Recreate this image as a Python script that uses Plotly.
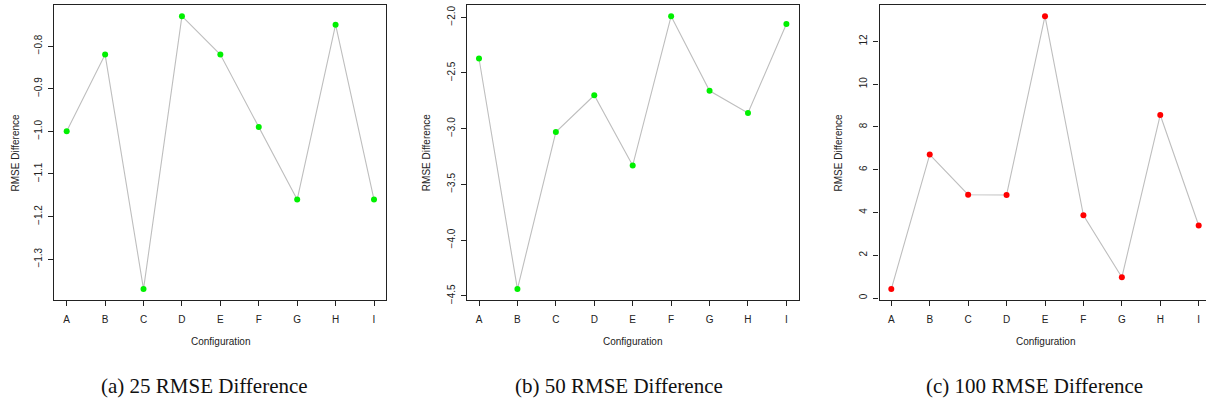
import plotly.graph_objects as go

configs = ["A", "B", "C", "D", "E", "F", "G", "H", "I"]
rmse_25 = [-1.00, -0.82, -1.37, -0.73, -0.82, -0.99, -1.16, -0.75, -1.16]
rmse_50 = [-2.37, -4.44, -3.03, -2.70, -3.33, -1.99, -2.66, -2.86, -2.06]
rmse_100 = [0.42, 6.71, 4.83, 4.82, 13.18, 3.87, 0.97, 8.56, 3.39]

yticks_25 = [-1.3, -1.2, -1.1, -1.0, -0.9, -0.8]
yticks_50 = [-4.5, -4.0, -3.5, -3.0, -2.5, -2.0]
yticks_100 = [0, 2, 4, 6, 8, 10, 12]
ytext_25 = ["\u22121.3", "\u22121.2", "\u22121.1", "\u22121.0", "\u22120.9", "\u22120.8"]
ytext_50 = ["\u22124.5", "\u22124.0", "\u22123.5", "\u22123.0", "\u22122.5", "\u22122.0"]
ytext_100 = ["0", "2", "4", "6", "8", "10", "12"]

captions = ["(a) 25 RMSE Difference", "(b) 50 RMSE Difference", "(c) 100 RMSE Difference"]
x_title = "Configuration"
y_title = "RMSE Difference"

W, H = 1206, 402
xpos = list(range(1, len(configs) + 1))

def rrange(vals):
    lo, hi = min(vals), max(vals)
    e = (hi - lo) * 0.04
    return [lo - e, hi + e]

fig = go.Figure()
series = [(rmse_25, "#00F000"), (rmse_50, "#00F000"), (rmse_100, "#FF0000")]
for i, (vals, col) in enumerate(series):
    ax = "" if i == 0 else str(i + 1)
    fig.add_trace(go.Scatter(
        x=xpos, y=vals, mode="lines+markers",
        line=dict(color="#BEBEBE", width=1.1),
        marker=dict(color=col, size=6, line=dict(width=0)),
        xaxis="x" + ax, yaxis="y" + ax, showlegend=False, hoverinfo="x+y"))

tickfont = dict(family="Liberation Sans, Arial, sans-serif", size=10, color="#222")
ydom = [1 - 303 / H, 1 - 5.3 / H]
xdoms = [[54.4 / W, 386.3 / W], [466.7 / W, 798.7 / W], [879.5 / W, 1.0]]
xranges = [[0.68, 9.32], [0.68, 9.32], [0.693, 9.19]]
yts = [(yticks_25, ytext_25), (yticks_50, ytext_50), (yticks_100, ytext_100)]
vals_all = [rmse_25, rmse_50, rmse_100]

layout = dict(width=W, height=H, margin=dict(l=0, r=0, t=0, b=0),
              plot_bgcolor="white", paper_bgcolor="white", showlegend=False)
for i in range(3):
    ax = "" if i == 0 else str(i + 1)
    layout["xaxis" + ax] = dict(
        domain=xdoms[i], range=xranges[i], anchor="y" + ax,
        tickvals=xpos, ticktext=configs, ticks="outside", ticklen=5,
        tickcolor="#222", tickwidth=1, showgrid=False, zeroline=False,
        showline=True, linecolor="#222", linewidth=1.3, mirror=True,
        tickfont=tickfont, ticklabelstandoff=5, fixedrange=True)
    layout["yaxis" + ax] = dict(
        domain=ydom, range=rrange(vals_all[i]), anchor="x" + ax,
        tickvals=yts[i][0], ticktext=yts[i][1], ticks="outside", ticklen=5,
        tickcolor="#222", tickwidth=1, showgrid=False, zeroline=False,
        showline=True, linecolor="#222", linewidth=1.3, mirror=(i < 2),
        tickangle=-90, tickfont=tickfont, ticklabelstandoff=2, fixedrange=True)
fig.update_layout(**layout)

ann = []
ylab_x = [15, 426.7, 838]
for i in range(3):
    cx = (xdoms[i][0] * W + (xdoms[i][1] * W if i < 2 else 1211)) / 2
    ann.append(dict(text=x_title, x=cx / W, y=1 - 345 / H, xref="paper", yref="paper",
                    showarrow=False, font=tickfont, xanchor="center", yanchor="middle"))
    ann.append(dict(text=y_title, x=ylab_x[i] / W, y=1 - 154 / H, xref="paper", yref="paper",
                    showarrow=False, font=tickfont, textangle=-90,
                    xanchor="center", yanchor="middle"))
cap_x = [204, 619, 1034]
for i in range(3):
    ann.append(dict(text=captions[i], x=cap_x[i] / W, y=1 - 390 / H, xref="paper", yref="paper",
                    showarrow=False,
                    font=dict(family="Liberation Serif, Times New Roman, serif", size=21, color="#111"),
                    xanchor="center", yanchor="middle"))
fig.update_layout(annotations=ann)

fig.write_html("out.html")
